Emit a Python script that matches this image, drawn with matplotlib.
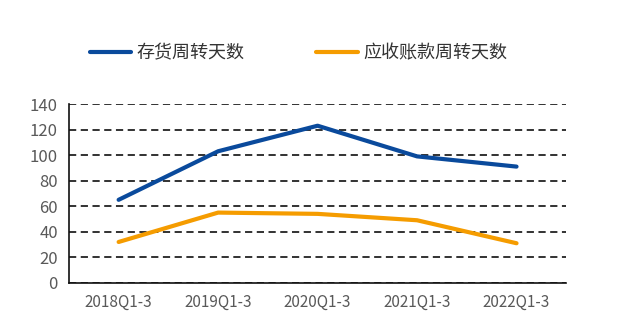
import matplotlib
matplotlib.use('Agg')
import matplotlib.pyplot as plt
import numpy as np

plt.rcParams['font.family'] = ['Noto Sans CJK SC', 'DejaVu Sans']

periods = ['2018Q1-3', '2019Q1-3', '2020Q1-3', '2021Q1-3', '2022Q1-3']
inventory_days = [65, 103, 123, 99, 91]
receivable_days = [32, 55, 54, 49, 31]
series_names = ['存货周转天数', '应收账款周转天数']

fig = plt.figure(figsize=(6.32, 3.24), dpi=100)
ax = fig.add_axes([0.109, 0.127, 0.787, 0.552])

x = np.arange(len(periods))
l1, = ax.plot(x, inventory_days, color='#0a4a9c', lw=3, solid_capstyle='round', label=series_names[0])
l2, = ax.plot(x, receivable_days, color='#f59c00', lw=3, solid_capstyle='round', label=series_names[1])

ax.set_xlim(-0.5, len(periods) - 0.5)
ax.set_ylim(0, 140)
ax.set_yticks(range(0, 141, 20))
ax.set_xticks(x)
ax.set_xticklabels(periods)
ax.yaxis.grid(True, color='#222222', linestyle=(0, (4, 2.5)), lw=1.3)
ax.set_axisbelow(True)
ax.tick_params(length=0, colors='#595959', labelsize=12)
ax.tick_params(axis='x', pad=8, labelsize=11)
ax.tick_params(axis='y', pad=8)
for s in ['top', 'right']:
    ax.spines[s].set_visible(False)
for s in ['left', 'bottom']:
    ax.spines[s].set_color('#111111')
    ax.spines[s].set_linewidth(1.2)

fig.legend(handles=[l1, l2], loc='center', bbox_to_anchor=(0.472, 0.836), ncol=2,
           frameon=False, fontsize=13, handlelength=2.3, handletextpad=0.28,
           columnspacing=4.0, labelcolor='#333333')

fig.savefig('out.png', dpi=100)
